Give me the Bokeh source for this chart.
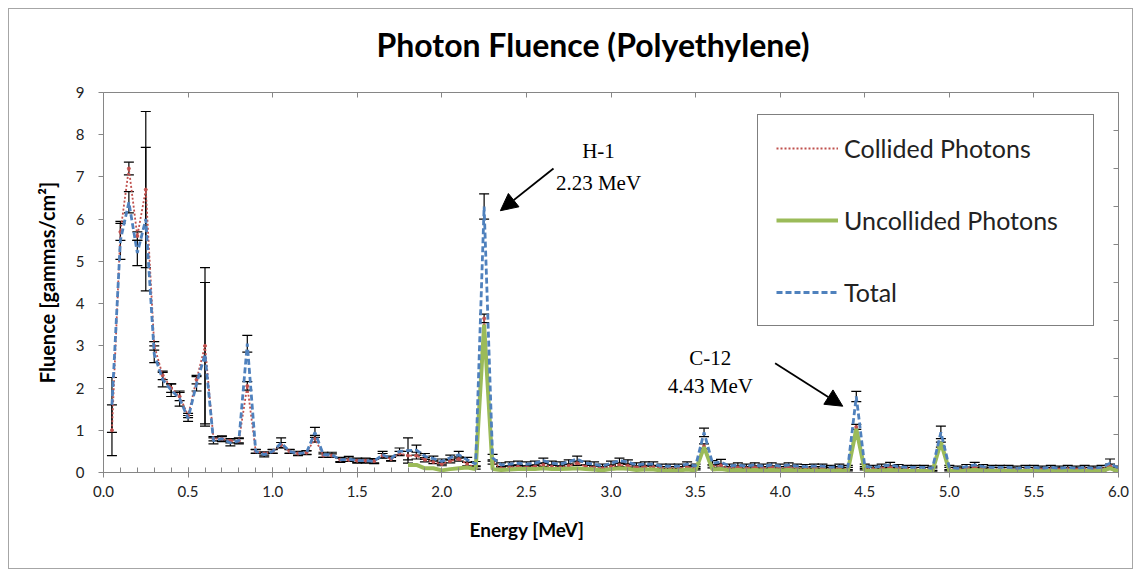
import math
from bokeh.plotting import figure
from bokeh.models import (ColumnDataSource, Whisker, TeeHead, Label, Arrow, NormalHead, Title,
                          LinearAxis, Range1d, SingleIntervalTicker, Legend, LegendItem,
                          PrintfTickFormatter, CustomJSTickFormatter)
from bokeh.embed import file_html
from bokeh.resources import INLINE

NAN = float("nan")

energy = [
    0.05, 0.10, 0.15, 0.20, 0.25, 0.30, 0.35, 0.40, 0.45, 0.50,
    0.55, 0.60, 0.65, 0.70, 0.75, 0.80, 0.85, 0.90, 0.95, 1.00,
    1.05, 1.10, 1.15, 1.20, 1.25, 1.30, 1.35, 1.40, 1.45, 1.50,
    1.55, 1.60, 1.65, 1.70, 1.75, 1.80, 1.85, 1.90, 1.95, 2.00,
    2.05, 2.10, 2.15, 2.20, 2.25, 2.30, 2.35, 2.40, 2.45, 2.50,
    2.55, 2.60, 2.65, 2.70, 2.75, 2.80, 2.85, 2.90, 2.95, 3.00,
    3.05, 3.10, 3.15, 3.20, 3.25, 3.30, 3.35, 3.40, 3.45, 3.50,
    3.55, 3.60, 3.65, 3.70, 3.75, 3.80, 3.85, 3.90, 3.95, 4.00,
    4.05, 4.10, 4.15, 4.20, 4.25, 4.30, 4.35, 4.40, 4.45, 4.50,
    4.55, 4.60, 4.65, 4.70, 4.75, 4.80, 4.85, 4.90, 4.95, 5.00,
    5.05, 5.10, 5.15, 5.20, 5.25, 5.30, 5.35, 5.40, 5.45, 5.50,
    5.55, 5.60, 5.65, 5.70, 5.75, 5.80, 5.85, 5.90, 5.95, 6.00]

total = [
    1.6, 5.5, 6.4, 5.2, 6.0, 2.8, 2.2, 1.95, 1.75, 1.28,
    2.1, 2.8, 0.75, 0.8, 0.7, 0.75, 3.05, 0.5, 0.42, 0.5,
    0.7, 0.5, 0.45, 0.47, 0.95, 0.42, 0.42, 0.3, 0.32, 0.28,
    0.28, 0.27, 0.42, 0.33, 0.5, 0.52, 0.53, 0.38, 0.33, 0.26,
    0.35, 0.42, 0.3, 0.2, 6.3, 0.35, 0.18, 0.2, 0.22, 0.2,
    0.22, 0.28, 0.22, 0.2, 0.25, 0.32, 0.22, 0.2, 0.15, 0.22,
    0.28, 0.25, 0.18, 0.2, 0.2, 0.15, 0.15, 0.15, 0.2, 0.15,
    0.95, 0.22, 0.25, 0.15, 0.18, 0.15, 0.18, 0.15, 0.18, 0.15,
    0.18, 0.15, 0.14, 0.15, 0.15, 0.12, 0.15, 0.12, 1.8, 0.15,
    0.12, 0.15, 0.18, 0.14, 0.12, 0.12, 0.12, 0.1, 0.95, 0.12,
    0.1, 0.14, 0.18, 0.14, 0.12, 0.12, 0.12, 0.1, 0.12, 0.12,
    0.1, 0.12, 0.1, 0.12, 0.1, 0.12, 0.1, 0.12, 0.22, 0.1]

collided = [
    1.0, 5.7, 7.2, 5.6, 6.7, 3.0, 2.3, 2.0, 1.8, 1.35,
    2.2, 3.0, 0.8, 0.8, 0.75, 0.75, 2.05, 0.5, 0.45, 0.5,
    0.65, 0.5, 0.45, 0.47, 0.8, 0.4, 0.4, 0.3, 0.3, 0.28,
    0.28, 0.27, 0.4, 0.32, 0.45, 0.4, 0.4, 0.3, 0.25, 0.2,
    0.27, 0.32, 0.2, 0.12, 3.65, 0.25, 0.1, 0.12, 0.14, 0.12,
    0.14, 0.18, 0.14, 0.12, 0.16, 0.22, 0.14, 0.12, 0.1, 0.14,
    0.18, 0.16, 0.12, 0.13, 0.13, 0.1, 0.1, 0.1, 0.13, 0.1,
    0.62, 0.15, 0.17, 0.1, 0.12, 0.1, 0.12, 0.1, 0.12, 0.1,
    0.12, 0.1, 0.09, 0.1, 0.1, 0.08, 0.1, 0.08, 1.08, 0.1,
    0.08, 0.1, 0.12, 0.09, 0.08, 0.08, 0.08, 0.07, 0.66, 0.08,
    0.07, 0.09, 0.12, 0.09, 0.08, 0.08, 0.08, 0.07, 0.08, 0.08,
    0.07, 0.08, 0.07, 0.08, 0.07, 0.08, 0.07, 0.08, 0.15, 0.07]

uncollided = [NAN] * 35 + [
    0.18, 0.18, 0.1, 0.1, 0.05, 0.08, 0.1, 0.12, 0.08, 3.5,
    0.08, 0.06, 0.07, 0.08, 0.08, 0.08, 0.1, 0.08, 0.08, 0.09,
    0.1, 0.08, 0.07, 0.05, 0.08, 0.1, 0.09, 0.06, 0.07, 0.07,
    0.05, 0.05, 0.05, 0.07, 0.05, 0.6, 0.07, 0.08, 0.05, 0.06,
    0.05, 0.06, 0.05, 0.06, 0.05, 0.06, 0.05, 0.05, 0.05, 0.05,
    0.04, 0.05, 0.04, 1.03, 0.05, 0.04, 0.05, 0.06, 0.05, 0.04,
    0.04, 0.04, 0.03, 0.72, 0.04, 0.03, 0.05, 0.06, 0.05, 0.04,
    0.04, 0.04, 0.03, 0.04, 0.04, 0.03, 0.04, 0.03, 0.04, 0.03,
    0.04, 0.03, 0.04, 0.1, 0.03]

total_err = [
    0.65, 0.45, 0.25, 0.3, 1.7, 0.2, 0.17, 0.15, 0.18, 0.07,
    0.17, 1.7, 0.07, 0.07, 0.07, 0.07, 0.2, 0.05, 0.05, 0.05,
    0.12, 0.05, 0.05, 0.05, 0.12, 0.06, 0.06, 0.06, 0.06, 0.06,
    0.06, 0.06, 0.08, 0.06, 0.08, 0.3, 0.12, 0.07, 0.06, 0.06,
    0.06, 0.08, 0.06, 0.06, 0.3, 0.08, 0.05, 0.05, 0.05, 0.05,
    0.05, 0.06, 0.05, 0.05, 0.05, 0.07, 0.05, 0.05, 0.05, 0.05,
    0.06, 0.05, 0.05, 0.05, 0.05, 0.05, 0.05, 0.05, 0.05, 0.05,
    0.1, 0.06, 0.06, 0.05, 0.05, 0.05, 0.05, 0.05, 0.05, 0.05,
    0.05, 0.05, 0.05, 0.05, 0.05, 0.05, 0.05, 0.05, 0.12, 0.05,
    0.05, 0.05, 0.06, 0.05, 0.05, 0.05, 0.05, 0.05, 0.15, 0.05,
    0.05, 0.05, 0.06, 0.05, 0.05, 0.05, 0.05, 0.05, 0.05, 0.05,
    0.05, 0.05, 0.05, 0.05, 0.05, 0.05, 0.05, 0.05, 0.1, 0.05]

collided_err = [
    0.6, 0.2, 0.15, 0.1, 1.85, 0.1, 0.1, 0.1, 0.1, 0.05,
    0.1, 1.85, 0.05, 0.05, 0.05, 0.05, 0.1, 0.04, 0.04, 0.04,
    0.06, 0.04, 0.04, 0.04, 0.08, 0.04, 0.04, 0.04, 0.04, 0.04,
    0.04, 0.04, 0.05, 0.04, 0.05, 0.1, 0.08, 0.05, 0.04, 0.04,
    0.04, 0.05, 0.04, 0.04, 0.1, 0.05, 0.04, 0.04, 0.04, 0.04,
    0.04, 0.04, 0.04, 0.04, 0.04, 0.05, 0.04, 0.04, 0.04, 0.04,
    0.04, 0.04, 0.04, 0.04, 0.04, 0.04, 0.04, 0.04, 0.04, 0.04,
    0.06, 0.04, 0.04, 0.04, 0.04, 0.04, 0.04, 0.04, 0.04, 0.04,
    0.04, 0.04, 0.04, 0.04, 0.04, 0.04, 0.04, 0.04, 0.06, 0.04,
    0.04, 0.04, 0.04, 0.04, 0.04, 0.04, 0.04, 0.04, 0.06, 0.04,
    0.04, 0.04, 0.04, 0.04, 0.04, 0.04, 0.04, 0.04, 0.04, 0.04,
    0.04, 0.04, 0.04, 0.04, 0.04, 0.04, 0.04, 0.04, 0.05, 0.04]

x_ticks_interval = 0.5
title_text = "Photon Fluence (Polyethylene)"
x_label = "Energy [MeV]"
y_label = "Fluence [gammas/cm\u00b2]"
series_names = ["Collided Photons", "Uncollided Photons", "Total"]

src = ColumnDataSource(dict(
    e=energy, tot=total, coll=collided, unc=uncollided,
    tot_hi=[v + d for v, d in zip(total, total_err)],
    tot_lo=[v - d for v, d in zip(total, total_err)],
    coll_hi=[v + d for v, d in zip(collided, collided_err)],
    coll_lo=[v - d for v, d in zip(collided, collided_err)],
))

FONT = "Lato"
p = figure(width=1125, height=561, x_range=Range1d(0, 6), y_range=Range1d(0, 9),
           output_backend="svg", toolbar_location=None,
           min_border_left=94, min_border_right=16, min_border_top=83, min_border_bottom=98)
p.styles = {"border": "1px solid #a6a6a6", "margin-left": "8px", "margin-top": "8px"}
p.outline_line_color = None
p.grid.visible = False
p.background_fill_color = "white"
p.border_fill_color = "white"

AX = "#868686"
# bottom axis
p.xaxis.ticker = SingleIntervalTicker(interval=x_ticks_interval, num_minor_ticks=5)
p.xaxis.formatter = PrintfTickFormatter(format="%.1f")
p.xaxis.axis_line_color = AX
p.xaxis.major_tick_line_color = AX
p.xaxis.minor_tick_line_color = AX
p.xaxis.major_tick_in = 5
p.xaxis.major_tick_out = 5
p.xaxis.minor_tick_in = 5
p.xaxis.minor_tick_out = 0
p.xaxis.major_label_standoff = 8
p.xaxis.major_label_text_font = FONT
p.xaxis.major_label_text_font_size = "15px"
p.xaxis.major_label_text_color = "#222222"

# left axis
p.yaxis.ticker = SingleIntervalTicker(interval=1, num_minor_ticks=0)
p.yaxis.axis_line_color = AX
p.yaxis.major_tick_line_color = AX
p.yaxis.major_tick_in = 0
p.yaxis.major_tick_out = 5
p.yaxis.minor_tick_line_color = None
p.yaxis.major_label_standoff = 14
p.yaxis.major_label_text_font = FONT
p.yaxis.major_label_text_font_size = "15px"
p.yaxis.major_label_text_color = "#222222"
p.yaxis.axis_label = y_label
p.yaxis.axis_label_text_font = FONT
p.yaxis.axis_label_text_font_style = "bold"
p.yaxis.axis_label_text_font_size = "20px"
p.yaxis.axis_label_text_color = "black"
p.yaxis.axis_label_standoff = 14

blank = CustomJSTickFormatter(code="return ''")
top = LinearAxis(ticker=SingleIntervalTicker(interval=x_ticks_interval, num_minor_ticks=0),
                 formatter=blank, axis_line_color=AX, major_tick_line_color=AX,
                 major_tick_in=5, major_tick_out=0, minor_tick_line_color=None,
                 major_label_standoff=0)
p.add_layout(top, "above")

# invisible spacer between the top axis and the chart title
spacer = LinearAxis(ticker=SingleIntervalTicker(interval=x_ticks_interval, num_minor_ticks=0),
                    formatter=blank, axis_line_color=None, major_tick_line_color=None,
                    major_tick_in=0, major_tick_out=18, minor_tick_line_color=None,
                    major_label_standoff=0)
p.add_layout(spacer, "above")

p.extra_y_ranges = {"r": Range1d(0, 10)}
right = LinearAxis(y_range_name="r", ticker=SingleIntervalTicker(interval=1, num_minor_ticks=0),
                   formatter=blank, axis_line_color=AX, major_tick_line_color=AX,
                   major_tick_in=5, major_tick_out=0, minor_tick_line_color=None,
                   major_label_standoff=0)
p.add_layout(right, "right")

# chart title and x-axis title (positioned to match the original's off-centre placement)
p.add_layout(Title(text=title_text, align="left", offset=273, vertical_align="middle",
                   standoff=20, text_font=FONT, text_font_style="bold",
                   text_font_size="32px", text_color="black"), "above")
p.add_layout(Title(text=x_label, align="left", offset=366, vertical_align="top",
                   standoff=36, text_font=FONT, text_font_style="bold",
                   text_font_size="19px", text_color="black"), "below")

RED = "#C0504D"
GREEN = "#9BBB59"
BLUE = "#4F81BD"

coll_line = p.line("e", "coll", source=src, line_color=RED, line_width=1.8, line_dash="2 2")
coll_pts = p.scatter("e", "coll", source=src, marker="circle", size=3,
                     fill_color=RED, line_color=RED)
unc_line = p.line("e", "unc", source=src, line_color=GREEN, line_width=4)
tot_line = p.line("e", "tot", source=src, line_color=BLUE, line_width=2.8, line_dash="6 3")

for hi, lo in (("coll_hi", "coll_lo"), ("tot_hi", "tot_lo")):
    w = Whisker(source=src, base="e", upper=hi, lower=lo, line_color="black", line_width=1.2,
                upper_head=TeeHead(size=10, line_color="black", line_width=1.2),
                lower_head=TeeHead(size=10, line_color="black", line_width=1.2))
    p.add_layout(w)

legend = Legend(items=[
    LegendItem(label=series_names[0], renderers=[coll_line]),
    LegendItem(label=series_names[1], renderers=[unc_line]),
    LegendItem(label=series_names[2], renderers=[tot_line]),
], location=(654, 146))
legend.border_line_color = "black"
legend.border_line_width = 1.3
legend.background_fill_color = "white"
legend.background_fill_alpha = 1
legend.padding = 18
legend.spacing = 42
legend.label_height = 28
legend.glyph_height = 28
legend.glyph_width = 62
legend.label_width = 231
legend.label_standoff = 6
legend.label_text_font = FONT
legend.label_text_font_size = "25px"
legend.label_text_color = "#222222"
legend.margin = 0
p.add_layout(legend, "center")

# peak annotations
SERIF = "Liberation Serif"
for tx, ty, t in ((2.926, 7.62, "H-1"), (2.926, 6.86, "2.23 MeV"),
                  (3.587, 2.71, "C-12"), (3.587, 2.04, "4.43 MeV")):
    p.add_layout(Label(x=tx, y=ty, text=t, text_font=SERIF, text_font_size="21px",
                       text_align="center", text_baseline="middle", text_color="black"))

p.add_layout(Arrow(end=NormalHead(size=17, fill_color="black", line_color="black"),
                   x_start=2.66, y_start=7.20, x_end=2.346, y_end=6.20,
                   line_color="black", line_width=1.8))
p.add_layout(Arrow(end=NormalHead(size=17, fill_color="black", line_color="black"),
                   x_start=3.97, y_start=2.59, x_end=4.37, y_end=1.57,
                   line_color="black", line_width=1.8))

open("out.html", "w").write(file_html(p, INLINE))
